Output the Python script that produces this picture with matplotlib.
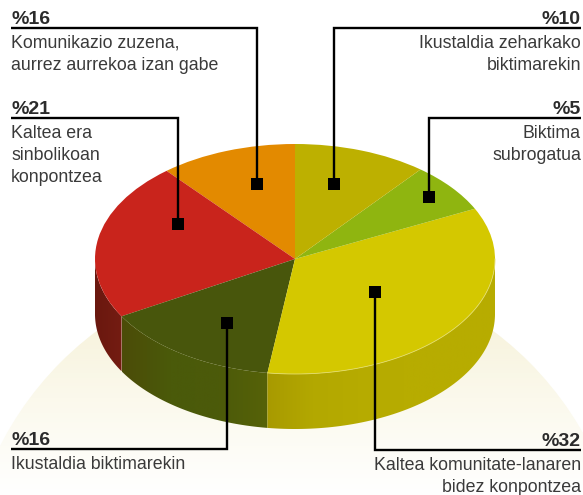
"""
Basque 3D-style pie chart with callouts: drawn as flattened ax.pie plus side wall.
"""

import matplotlib
matplotlib.use('Agg')
import matplotlib.pyplot as plt
import numpy as np
from matplotlib.colors import LinearSegmentedColormap
from matplotlib.patches import Circle, Polygon

# Data
# ----------------------------------------------------------------------------

# slice shares as drawn in the picture (they differ a bit from the printed %)
slice_names = ['Komunikazio', 'Sinbolikoa', 'Ikustaldia', 'Komunitate', 'Subrogatua', 'Zeharkako']
slice_shares = [11.1, 22.2, 14.5, 34.4, 7.0, 10.8]
top_colors = ['#e38a00', '#c9241c', '#48560c', '#d4c800', '#8fb510', '#bdb000']
side_colors = [
    ['#b06a00'],
    ['#6a180f', '#741c12'],
    ['#4c4c08', '#4a5a0a', '#4c5a0a', '#566208'],
    ['#a89a00', '#b3a800', '#b6ab00', '#b7ac00', '#b7ac00', '#b7ac00'],
    ['#6f8c0c'],
    ['#938900'],
]

percent_labels = ['%16', '%21', '%10', '%5', '%16', '%32']
text_labels = [
    ['Komunikazio zuzena,', 'aurrez aurrekoa izan gabe'],
    ['Kaltea era', 'sinbolikoan', 'konpontzea'],
    ['Ikustaldia zeharkako', 'biktimarekin'],
    ['Biktima', 'subrogatua'],
    ['Ikustaldia biktimarekin'],
    ['Kaltea komunitate-lanaren', 'bidez konpontzea'],
]

# Layout, in reference pixels
# ----------------------------------------------------------------------------

W, H = 583, 495
cx, cy, rx, ry, depth = 295, 259, 200, 115, 55
left, right = 11, 581
# rule y, marker x, marker y, text side
callouts = [
    (28, 257, 184, 'left'),
    (118, 178, 224, 'left'),
    (28, 334, 184, 'right'),
    (118, 429, 197, 'right'),
    (449, 227, 323, 'left'),
    (450, 375, 292, 'right'),
]

plt.rcParams['font.family'] = ['Liberation Sans', 'DejaVu Sans']
fig = plt.figure(figsize=(W / 100, H / 100), dpi=100, facecolor='white')

# Pale background disc, fading to white downwards
# ----------------------------------------------------------------------------

bg = fig.add_axes([0, 0, 1, 1], zorder=0)
cmap = LinearSegmentedColormap.from_list('fade', ['#f6f1d8', '#fbf9ec', '#ffffff'])
grad = bg.imshow(np.linspace(0, 1, 200).reshape(-1, 1), cmap=cmap, aspect='auto',
                 extent=(0, W, 495, 300))
grad.set_clip_path(Circle((295, 596), 331, transform=bg.transData))
bg.set_xlim(0, W)
bg.set_ylim(H, 0)
bg.axis('off')

# Pie, a unit circle squashed by the axes limits
# ----------------------------------------------------------------------------

ax = fig.add_axes([0, 0, 1, 1], zorder=1)
ax.patch.set_alpha(0)

ax.pie(slice_shares, colors=top_colors, startangle=90, radius=1, counterclock=True)
for w in ax.patches:
    w.set_zorder(3)

angles = 90 + np.cumsum([0] + slice_shares) / sum(slice_shares) * 360
d = depth / ry
for i in range(len(slice_shares)):
    a0, a1 = max(angles[i], 180), min(angles[i + 1], 360)
    if a1 <= a0:
        continue
    # wall of this slice: horizontal gradient clipped to the wall outline
    th = np.radians(np.linspace(a0, a1, 80))
    x, y = np.cos(th), np.sin(th)
    outline = np.column_stack([np.r_[x, x[::-1]], np.r_[y, y[::-1] - d]])
    wall = Polygon(outline, closed=True, transform=ax.transData, fc='none', ec='none')
    ax.add_patch(wall)
    colors = side_colors[i] * 2 if len(side_colors[i]) == 1 else side_colors[i]
    wall_cmap = LinearSegmentedColormap.from_list(f'wall{i}', colors)
    im = ax.imshow(np.linspace(0, 1, 256).reshape(1, -1), cmap=wall_cmap, aspect='auto',
                   extent=(x.min(), x.max(), y.min() - d, y.max()), zorder=2)
    im.set_clip_path(wall)

ax.set_aspect('auto')
ax.set_xlim(-cx / rx, (W - cx) / rx)
ax.set_ylim((cy - H) / ry, cy / ry)
ax.set_position([0, 0, 1, 1])

# Light rim on the front of the yellow slice
th = np.radians(np.linspace(angles[3], 360, 100))
ax.plot(np.cos(th), np.sin(th), color='#e3dc6a', lw=0.6, zorder=4)

# Callouts
# ----------------------------------------------------------------------------

top = fig.add_axes([0, 0, 1, 1], zorder=2)
top.patch.set_alpha(0)
top.set_xlim(0, W)
top.set_ylim(H, 0)
top.axis('off')

for (rule_y, mx, my, side), pct, lines in zip(callouts, percent_labels, text_labels):
    end = left if side == 'left' else right
    top.plot([end, mx, mx], [rule_y, rule_y, my], color='black', lw=1.7,
             solid_joinstyle='miter', solid_capstyle='butt')
    top.plot(mx, my, 's', color='black', ms=8.6, mew=0)
    top.text(end, rule_y - 4, pct, ha=side, va='baseline', fontsize=14,
             fontweight='bold', color='#2b2b2b')
    for k, line in enumerate(lines):
        top.text(end, rule_y + 20 + k * 22, line, ha=side, va='baseline',
                 fontsize=12.75, color='#3a3a3a')

fig.savefig('out.png', dpi=100)
